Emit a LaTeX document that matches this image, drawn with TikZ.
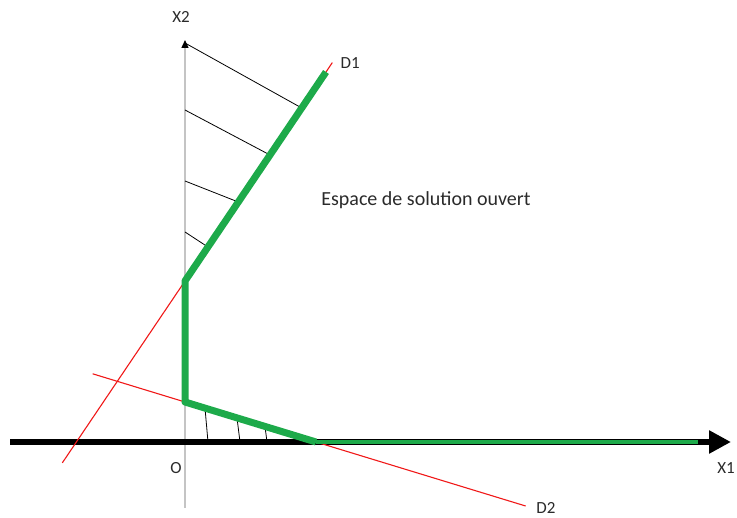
\documentclass[tikz,border=0pt]{standalone}
\usepackage{fontspec}
\setmainfont{Carlito}
\usetikzlibrary{arrows.meta,positioning,calc}
\definecolor{feasible}{HTML}{1DAA4A}
\definecolor{constraint}{HTML}{F01818}
\definecolor{axisgray}{HTML}{C4C4C4}
\definecolor{labeltext}{HTML}{2A2A2A}
\tikzset{
  axisone/.style={-{Triangle[length=22pt,width=22pt]},line width=5.5pt,black},
  axistwo/.style={-{Triangle[length=8pt,width=7pt,color=black]},line width=1.4pt,draw=axisgray},
  limit/.style={draw=constraint,line width=1.1pt},
  region/.style={draw=feasible,line width=7pt,line join=round},
  onaxis/.style={draw=feasible,line width=3.2pt},
  hatch/.style={draw=black,line width=0.8pt},
  axislabel/.style={font=\fontsize{17}{19}\selectfont,text=labeltext,inner sep=0pt}
}
\begin{document}
\begin{tikzpicture}[x=1pt,y=-1pt]
  \useasboundingbox (0,0) rectangle (737,518);
  % points of the figure
  \coordinate (O) at (185,442);
  \coordinate (A) at (185,281);
  \coordinate (B) at (185,402);
  \coordinate (C) at (316,442);
  \coordinate (top) at (185,40);
  \coordinate (bot) at (185,508);
  \coordinate (xl) at (10,442);
  \coordinate (xr) at (731,442);
  \coordinate (xg) at (698,442);
  \coordinate (d1s) at ($(A)!-0.87!(326,72)$);
  \coordinate (d1e) at ($(A)!1.045!(326,72)$);
  \coordinate (d1g) at (326,72);
  \coordinate (d2s) at ($(B)!-0.705!(C)$);
  \coordinate (d2e) at ($(B)!2.6!(C)$);

  % axes
  \draw[axistwo] (bot) -- (top);
  \draw[axisone] (xl) -- (xr);

  % hatching
  \foreach \ya/\yb in {43/108,110/155,181/202,232/247}
    \draw[hatch] (185,\ya) -- ($(A)!{(281-\yb)/209}!(d1g)$);
  \foreach \xa/\xb in {205/208,237/240,265/267}
    \draw[hatch] ($(B)!{(\xa-185)/131}!(C)$) -- (\xb,442);

  % constraints
  \draw[limit] (d1s) -- (d1e);
  \draw[limit] (d2s) -- (d2e);

  % boundary of the solution space
  \draw[region] (d1g) -- (A) -- (B) -- (C);
  \draw[onaxis] (C) -- (xg);

  % labels
  \node[axislabel] (x2) at (181,17) {X2};
  \node[axislabel] (x1) at (726,468) {X1};
  \node[axislabel] (o) at (176,468) {O};
  \node[axislabel,right=8pt of d1e] (dd1) {D1};
  \node[axislabel] (dd2) at (546,508) {D2};
  \node[axislabel,font=\fontsize{20}{22}\selectfont] (esp) at (426,200) {Espace de solution ouvert};
\end{tikzpicture}
\end{document}
